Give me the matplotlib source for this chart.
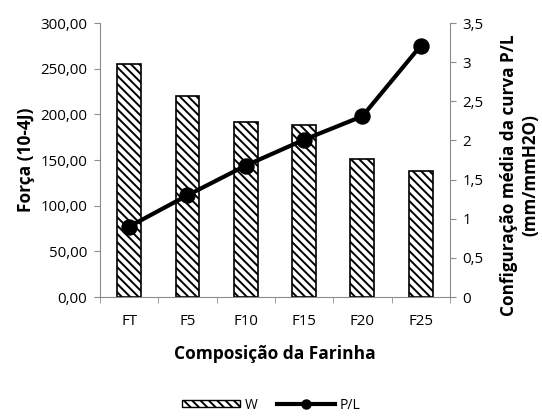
import matplotlib
matplotlib.use("Agg")
import matplotlib.pyplot as plt
from matplotlib.lines import Line2D
from matplotlib.patches import Patch
from matplotlib.ticker import FuncFormatter, FixedLocator

# dados do ensaio de alveografia
composicoes = ["FT", "F5", "F10", "F15", "F20", "F25"]
forca_w = [255, 220, 192, 188.5, 151, 138]     # W (10-4 J)
razao_pl = [0.90, 1.30, 1.68, 2.01, 2.31, 3.21]  # P/L

plt.rcParams["font.family"] = ["Open Sans", "DejaVu Sans"]
plt.rcParams["hatch.linewidth"] = 1.4
plt.rcParams["hatch.color"] = "#262626"

HATCH = "\\" * 4

fig = plt.figure(figsize=(5.42, 4.19), dpi=100)
ax = fig.add_axes([0.1845, 0.291, 0.6455, 0.654])
ax2 = ax.twinx()

x = list(range(len(composicoes)))
ax.bar(x, forca_w, width=0.41, color="white", edgecolor="black",
       linewidth=1.2, hatch=HATCH, zorder=2)

ax2.plot(x, razao_pl, color="black", linewidth=3.0, marker="o",
         markersize=10.8, zorder=3)

grey = "#8c8c8c"
ax.set_xlim(-0.5, len(composicoes) - 0.5)
ax.set_ylim(0, 300)
ax2.set_ylim(0, 3.5)

ax.set_yticks(range(0, 301, 50))
ax.yaxis.set_major_formatter(FuncFormatter(lambda v, p: f"{v:.2f}".replace(".", ",")))
ax2.set_yticks([i * 0.5 for i in range(8)])
ax2.yaxis.set_major_formatter(FuncFormatter(lambda v, p: f"{v:g}".replace(".", ",")))

ax.set_xticks(x)
ax.set_xticklabels(composicoes)
ax.tick_params(axis="x", length=0, pad=12, labelsize=10.8)
ax.xaxis.set_minor_locator(FixedLocator([i - 0.5 for i in range(len(composicoes) + 1)]))
ax.tick_params(axis="x", which="minor", length=4, color=grey, direction="out")

ax.tick_params(axis="y", length=4, color=grey, labelsize=10.8, pad=5)
ax2.tick_params(axis="y", length=4, color=grey, labelsize=10.8, pad=5)

for a in (ax, ax2):
    a.spines["top"].set_visible(False)
    for s in ("left", "right", "bottom"):
        a.spines[s].set_color(grey)
ax2.spines["left"].set_visible(False)
ax2.spines["bottom"].set_visible(False)
ax.spines["right"].set_visible(False)

ax.set_ylabel("Força (10-4J)", fontsize=12.5, fontweight="bold", labelpad=4)
ax.set_xlabel("Composição da Farinha", fontsize=12.5, fontweight="bold", labelpad=12)
ax2.set_ylabel("Configuração média da curva P/L\n(mm/mmH2O)", fontsize=12.3,
               fontweight="bold", labelpad=12, rotation=90, linespacing=1.2)
ax2.yaxis.label.set_y(0.445)

handles = [Patch(facecolor="white", edgecolor="black", hatch=HATCH, linewidth=1.0),
           Line2D([0], [0], color="black", linewidth=3.0, marker="o", markersize=6.5)]
fig.legend(handles, ["W", "P/L"], loc="center", bbox_to_anchor=(0.5, 0.033),
           ncol=2, frameon=False, fontsize=10, handlelength=4.2, handleheight=0.45,
           columnspacing=1.4, handletextpad=0.3)

fig.savefig("out.png", dpi=100)
